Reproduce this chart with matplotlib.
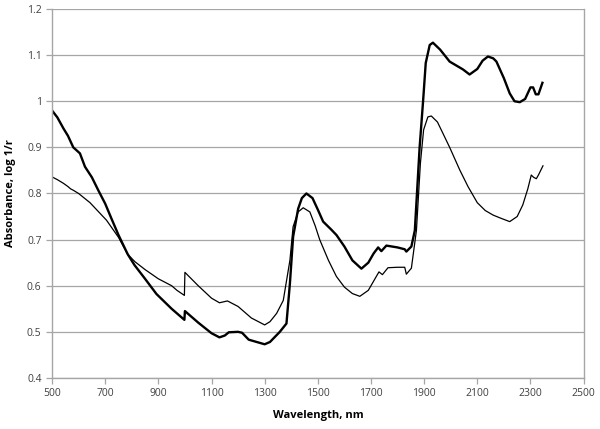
import matplotlib
matplotlib.use("Agg")
import matplotlib.pyplot as plt
from matplotlib.ticker import FixedLocator

wl_a = [500, 520, 543, 560, 580, 605, 624, 650, 674, 700, 724, 750, 785, 810, 850, 893, 950, 980, 998,
        1000, 1050, 1100, 1130, 1150, 1165, 1200, 1215, 1240, 1270, 1300, 1320, 1357, 1382,
        1395, 1407, 1426, 1440, 1457, 1480, 1500, 1520, 1550, 1570, 1600, 1630, 1664, 1690, 1710, 1727,
        1739, 1758, 1800, 1827, 1833, 1852, 1865, 1883, 1896, 1906, 1921, 1933, 1960, 1996, 2046, 2071,
        2100, 2120, 2140, 2160, 2172, 2200, 2222, 2240, 2260, 2280, 2300, 2310, 2320, 2330, 2345]
abs_a = [0.98, 0.965, 0.941, 0.925, 0.90, 0.887, 0.858, 0.835, 0.807, 0.778, 0.745, 0.71, 0.668, 0.645, 0.615, 0.582, 0.55, 0.535, 0.526,
         0.545, 0.52, 0.497, 0.488, 0.492, 0.499, 0.500, 0.498, 0.483, 0.478, 0.473, 0.478, 0.50, 0.518,
         0.605, 0.706, 0.767, 0.79, 0.80, 0.79, 0.765, 0.739, 0.722, 0.71, 0.685, 0.655, 0.637, 0.65, 0.67, 0.683,
         0.675, 0.687, 0.683, 0.679, 0.674, 0.685, 0.72, 0.90, 1.0, 1.083, 1.122, 1.127, 1.112, 1.086, 1.069, 1.058,
         1.07, 1.088, 1.097, 1.093, 1.086, 1.05, 1.017, 1.0, 0.998, 1.005, 1.03, 1.03, 1.015, 1.015, 1.04]

wl_b = [500, 520, 543, 560, 570, 580, 600, 643, 705, 750, 785, 812, 850, 900, 950, 970, 998,
        1000, 1050, 1100, 1130, 1160, 1200, 1250, 1300, 1320, 1345, 1370, 1395, 1407, 1426, 1445,
        1470, 1490, 1507, 1540, 1570, 1600, 1630, 1658, 1690, 1710, 1730, 1743, 1764, 1800, 1827,
        1833, 1852, 1871, 1886, 1898, 1914, 1927, 1950, 1971, 1996, 2034, 2065, 2100, 2130, 2160, 2190,
        2222, 2250, 2271, 2290, 2303, 2312, 2322, 2330, 2347]
abs_b = [0.836, 0.83, 0.822, 0.815, 0.81, 0.807, 0.80, 0.78, 0.742, 0.705, 0.668, 0.652, 0.635, 0.615, 0.60, 0.59, 0.579,
         0.629, 0.60, 0.573, 0.563, 0.567, 0.555, 0.53, 0.515, 0.522, 0.54, 0.568, 0.655, 0.728, 0.76, 0.769,
         0.76, 0.73, 0.70, 0.655, 0.62, 0.597, 0.583, 0.577, 0.59, 0.61, 0.630, 0.624, 0.639, 0.64, 0.64,
         0.625, 0.638, 0.72, 0.866, 0.938, 0.966, 0.968, 0.955, 0.93, 0.90, 0.851, 0.815, 0.78, 0.763, 0.753, 0.746,
         0.739, 0.75, 0.775, 0.81, 0.84, 0.835, 0.832, 0.84, 0.86]

x_ticks = [500, 700, 900, 1100, 1300, 1500, 1700, 1900, 2100, 2300, 2500]
y_ticks = [0.4, 0.5, 0.6, 0.7, 0.8, 0.9, 1.0, 1.1, 1.2]
y_labels = ["0.4", "0.5", "0.6", "0.7", "0.8", "0.9", "1", "1.1", "1.2"]

plt.rcParams['font.family'] = ['Open Sans', 'DejaVu Sans']
fig = plt.figure(figsize=(6, 4.29), dpi=100)
ax = fig.add_axes([0.0867, 0.119, 0.886, 0.860])

ax.plot(wl_a, abs_a, color='black', lw=1.7, solid_joinstyle='round')
ax.plot(wl_b, abs_b, color='black', lw=0.9, solid_joinstyle='round')

ax.set_xlim(500, 2500)
ax.set_ylim(0.4, 1.2)
ax.xaxis.set_major_locator(FixedLocator(x_ticks))
ax.set_yticks(y_ticks)
ax.set_yticklabels(y_labels)
ax.yaxis.grid(True, color='#a6a6a6', lw=0.9)
ax.set_axisbelow(True)
for s in ax.spines.values():
    s.set_color('#a6a6a6')
    s.set_linewidth(1.0)
ax.spines['top'].set_visible(False)
ax.tick_params(axis='both', colors='#a6a6a6', labelcolor='#404040', labelsize=7.5, length=4, width=0.9)
ax.set_xlabel('Wavelength, nm', fontsize=8, fontweight='bold', labelpad=8)
ax.set_ylabel('Absorbance, log 1/r', fontsize=8, fontweight='bold', labelpad=8)

fig.savefig('out.png', dpi=100)
